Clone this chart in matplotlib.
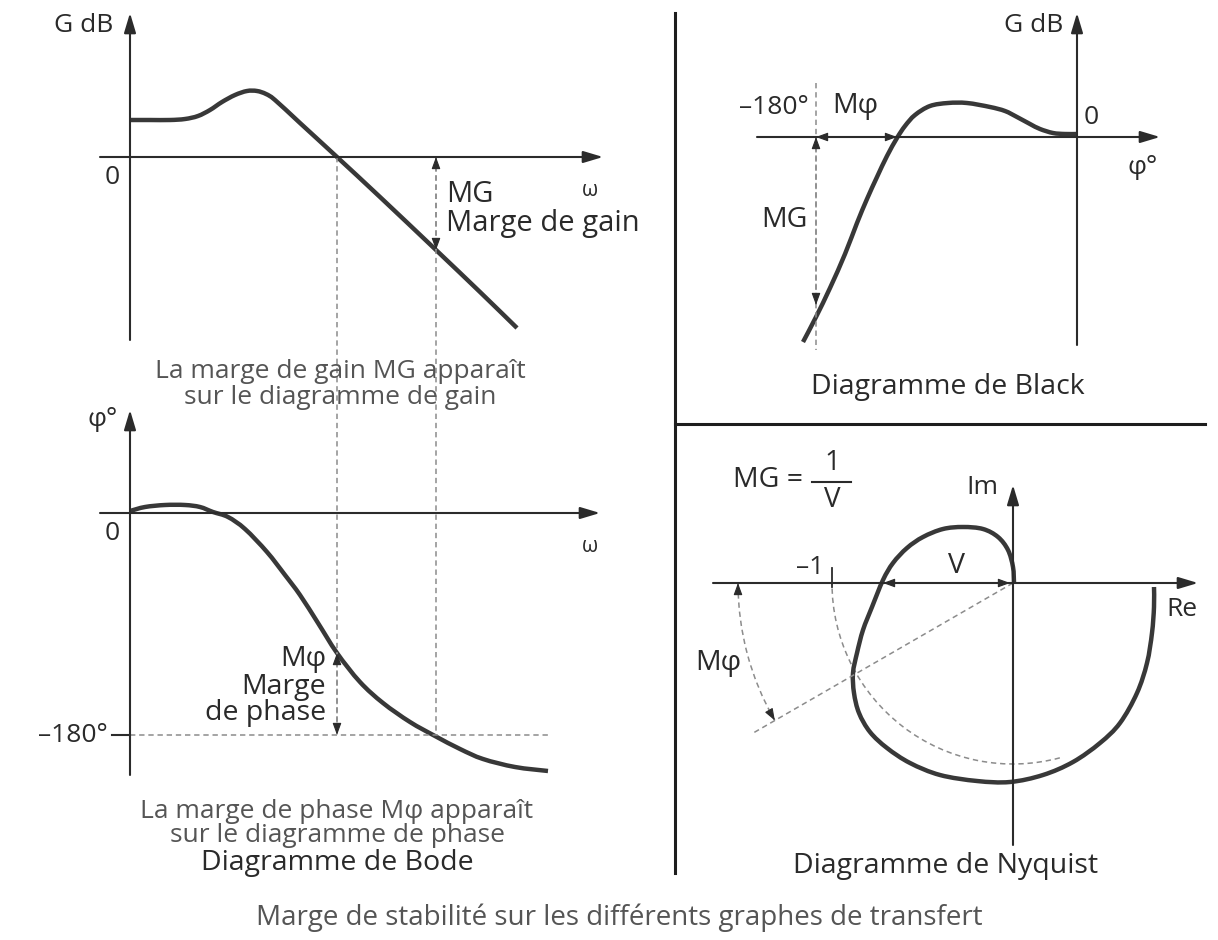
import matplotlib
matplotlib.use("Agg")

import matplotlib.pyplot as plt
from matplotlib.patches import Arc, PathPatch
from matplotlib.path import Path
import numpy as np

plt.rcParams['font.family'] = ['Open Sans', 'DejaVu Sans']

W, H = 1218, 940
CURVE = '#383838'
AXIS = '#2b2b2b'
DASH = '#8c8c8c'
TXT = '#2a2a2a'
CAP = '#555555'

# Bode gain, local units (x right, y up) from the axes origin
gain_w = [0, 20, 40, 55, 68, 80, 92, 105, 117, 127, 136, 145, 170, 207, 250,
          306, 350, 387]
gain_db = [37, 37, 37, 38, 41, 47, 55, 62, 66, 66, 63, 57, 34, 0, -40,
           -93, -135, -171]

# Bode phase
phase_w = [0, 15, 35, 55, 70, 83, 98, 115, 137, 155, 170, 188, 207, 230, 253,
           280, 305, 330, 353, 385, 418]
phase_deg = [2, 6, 8, 8, 6, 1, -4, -16, -39, -62, -82, -110, -140, -169, -190,
             -209, -223, -236, -246, -254, -258]
phase_180 = -222          # level of the -180° line
w_cross = 207             # gain crossover
w_180 = 306               # phase crossover

# Black locus (phase, gain)
black_phi = [-274, -261, -247, -232, -220, -210, -200, -190, -180, -172, -162,
             -147, -129, -110, -87, -72, -60, -47, -37, -24, -12, 0]
black_g = [-205, -180, -151, -117, -86, -62, -40, -19, -1, 11, 22, 31, 34, 34,
           30, 26, 20, 13, 8, 4, 3, 3]
black_180 = -261

# Nyquist locus (Re, Im)
nyq_re = [1, 0, -5, -15, -30, -50, -70, -90, -106, -120, -130, -141, -150, -156,
          -160, -159, -154, -143, -126, -103, -73, -36, -3, 30, 60, 87, 107,
          124, 134, 139, 141, 141]
nyq_im = [0, 16, 33, 46, 54, 56, 54, 46, 35, 20, 3, -24, -47, -70, -90, -110,
          -130, -149, -165, -180, -192, -198, -199, -192, -179, -160, -140,
          -110, -80, -50, -24, -4]
unit_r = 181              # radius of the unit circle
v_cross = -130            # crossing of the negative real axis
pm_deg = 30               # phase margin angle

G0 = (130, 157)
P0 = (130, 513)
B0 = (1077, 137)
N0 = (1013, 583)


def at(origin, xs, ys):
    return origin[0] + np.asarray(xs, float), origin[1] - np.asarray(ys, float)


fig = plt.figure(figsize=(W / 100, H / 100), dpi=100)
ax = fig.add_axes([0, 0, 1, 1])
ax.set_xlim(0, W)
ax.set_ylim(H, 0)
ax.axis('off')


def smooth_curve(xs, ys):
    # cubic Bezier path through the points (Catmull-Rom tangents)
    p = np.column_stack([xs, ys])
    ext = np.vstack([p[0], p, p[-1]])
    verts = [p[0]]
    codes = [Path.MOVETO]
    for i in range(len(p) - 1):
        c1 = ext[i + 1] + (ext[i + 2] - ext[i]) / 6
        c2 = ext[i + 2] - (ext[i + 3] - ext[i + 1]) / 6
        verts += [c1, c2, ext[i + 2]]
        codes += [Path.CURVE4] * 3
    ax.add_patch(PathPatch(Path(verts, codes), fill=False, edgecolor=CURVE,
                           lw=3.2, capstyle='butt', joinstyle='round'))


def axis_arrow(x0, y0, x1, y1):
    ax.annotate('', xy=(x1, y1), xytext=(x0, y0),
                arrowprops=dict(arrowstyle='-|>,head_length=1.0,head_width=0.3',
                                lw=1.5, color=AXIS, shrinkA=0, shrinkB=0,
                                mutation_scale=12))


def head(tip, dx, dy):
    # small solid arrow head at tip, pointing along (dx, dy) in canvas units
    n = np.hypot(dx, dy)
    ax.annotate('', xy=tip, xytext=(tip[0] - 7 * dx / n, tip[1] - 7 * dy / n),
                arrowprops=dict(arrowstyle='-|>,head_length=0.6,head_width=0.22',
                                lw=0.8, color=AXIS, shrinkA=0, shrinkB=0,
                                mutation_scale=12))


def dashed(xs, ys, **kw):
    ax.plot(xs, ys, color=DASH, lw=1.1, ls=(0, (3.5, 2.5)), **kw)


def dim(p0, p1):
    dashed([p0[0], p1[0]], [p0[1], p1[1]])
    head(p1, p1[0] - p0[0], p1[1] - p0[1])
    head(p0, p0[0] - p1[0], p0[1] - p1[1])


def label(x, y, s, size=19, ha='center', color=TXT, **kw):
    ax.text(x, y, s, fontsize=size, ha=ha, va='center', color=color, **kw)


# ---- Bode gain
axis_arrow(G0[0], 340, G0[0], 13)
axis_arrow(100, G0[1], 603, G0[1])
smooth_curve(*at(G0, gain_w, gain_db))
mg_db = gain_db[gain_w.index(w_180)]
for w in (w_cross, w_180):
    dashed([G0[0] + w] * 2, [G0[1], P0[1] - phase_180])
dim((G0[0] + w_180, G0[1]), (G0[0] + w_180, G0[1] - mg_db))
label(113, 25, 'G dB', ha='right')
label(112, 178, '0')
label(590, 190, 'ω', size=15)
label(446, 195, 'MG', ha='left', size=21)
label(446, 224, 'Marge de gain', ha='left', size=21)
label(340, 372, 'La marge de gain MG apparaît', color=CAP)
label(340, 397, 'sur le diagramme de gain', color=CAP)

# ---- Bode phase
axis_arrow(P0[0], 775, P0[0], 410)
axis_arrow(100, P0[1], 600, P0[1])
ax.plot([P0[0] - 18, P0[0]], [P0[1] - phase_180] * 2, color=AXIS, lw=1.5)
dashed([P0[0], P0[0] + 420], [P0[1] - phase_180] * 2)
smooth_curve(*at(P0, phase_w, phase_deg))
pm_val = phase_deg[phase_w.index(w_cross)]
dim((P0[0] + w_cross, P0[1] - pm_val), (P0[0] + w_cross, P0[1] - phase_180))
label(103, 420, 'φ°')
label(112, 533, '0')
label(590, 547, 'ω', size=15)
label(108, 736, '–180°', ha='right')
label(326, 659, 'Mφ', ha='right', size=20.5)
label(326, 687, 'Marge', ha='right', size=20.5)
label(326, 713, 'de phase', ha='right', size=20.5)
label(337, 811, 'La marge de phase Mφ apparaît', color=CAP)
label(337, 836, 'sur le diagramme de phase', color=CAP)
label(337, 863, 'Diagramme de Bode', size=20.5)

# ---- dividers
ax.plot([675, 675], [13, 873], color='#1e1e1e', lw=2.2)
ax.plot([675, 1205], [424, 424], color='#1e1e1e', lw=2.2)

# ---- Black
axis_arrow(B0[0], 345, B0[0], 13)
axis_arrow(757, B0[1], 1160, B0[1])
dashed([B0[0] + black_180] * 2, [B0[1] - 54, B0[1] + 213])
smooth_curve(*at(B0, black_phi, black_g))
dim((B0[0] + black_180, B0[1]), (B0[0] + black_phi[8], B0[1]))
dim((B0[0] + black_180, B0[1]), (B0[0] + black_180, B0[1] + 168))
label(1063, 25, 'G dB', ha='right')
label(1091, 118, '0')
label(1143, 168, 'φ°')
label(809, 108, '–180°', ha='right')
label(832, 106, 'Mφ', ha='left', size=20.5)
label(808, 220, 'MG', ha='right', size=20.5)
label(948, 387, 'Diagramme de Black', size=20.5)

# ---- Nyquist
axis_arrow(N0[0], 845, N0[0], 485)
axis_arrow(713, N0[1], 1198, N0[1])
ax.add_patch(Arc(N0, 2 * unit_r, 2 * unit_r, theta1=75, theta2=180,
                 color=DASH, lw=1.1, ls=(0, (3.5, 2.5))))
ax.add_patch(Arc(N0, 550, 550, theta1=180 - pm_deg, theta2=180,
                 color=DASH, lw=1.1, ls=(0, (3.5, 2.5))))
a = np.radians(pm_deg)
head((N0[0] - 275, N0[1]), 0, -1)
head((N0[0] - 275 * np.cos(a), N0[1] + 275 * np.sin(a)), np.sin(a), np.cos(a))
dashed([N0[0], N0[0] - 300 * np.cos(a)], [N0[1], N0[1] + 300 * np.sin(a)])
ax.plot([N0[0] - unit_r] * 2, [568, 587], color=AXIS, lw=1.3)
smooth_curve(*at(N0, nyq_re, nyq_im))
dim((N0[0] + v_cross, N0[1]), (N0[0] - 3, N0[1]))
label(803, 480, 'MG =', ha='right', size=20.5)
ax.plot([812, 851], [482, 482], color=TXT, lw=1.5)
label(832, 463, '1', size=20)
label(832, 500, 'V', size=20)
label(998, 488, 'Im', ha='right')
label(1182, 610, 'Re')
label(810, 567, '–1')
label(957, 566, 'V', size=20.5)
label(718, 663, 'Mφ', size=20.5)
label(946, 866, 'Diagramme de Nyquist', size=20.5)

label(619, 918, 'Marge de stabilité sur les différents graphes de transfert', size=20,
      color=CAP)

fig.savefig('out.png', dpi=100, facecolor='white')
